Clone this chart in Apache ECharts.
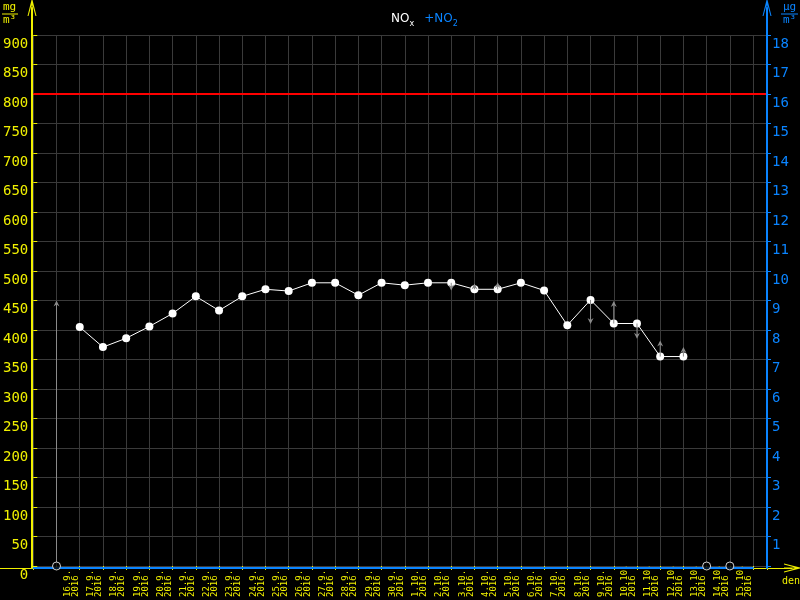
<!DOCTYPE html>
<html>
<head>
<meta charset="utf-8">
<script src="https://cdn.jsdelivr.net/npm/echarts@6/dist/echarts.min.js"></script>
<style>html,body{margin:0;padding:0;background:#000;}#c{width:800px;height:600px;}</style>
</head>
<body>
<div id="c"></div>
<script>
// ---- data ----
const dates = ['16.9.','17.9.','18.9.','19.9.','20.9.','21.9.','22.9.','23.9.','24.9.','25.9.','26.9.','27.9.','28.9.','29.9.','30.9.',
  '1.10.','2.10.','3.10.','4.10.','5.10.','6.10.','7.10.','8.10.','9.10.','10.10.','11.10.','12.10.','13.10.','14.10.','15.10.'];
const year = '2016';
const noxValues = [null,405,371,386,406,428,457,433,457,469,466,480,480,459,480,
  476,480,480,469,469,480,467,408,451,411,411,355,355,null,null];
// grey range arrows: [category index, start value, end value]
const arrowIdx   = [0,   17,  18,  19,  23,  24,  25,  26,  27];
const arrowStart = [0,   480, 469, 469, 451, 411, 411, 355, 355];
const arrowEnd   = [450, 467, 479, 481, 410, 449, 385, 382, 371];
// days without data (hollow markers on the axis)
const noDataIdx = [0, 28, 29];
const limitValue = 800;
const leftTicks = {min: 0, max: 900, interval: 50};
const rightTicks = {min: 0, max: 18, interval: 1};

const YEL = '#f0f000', BLUE = '#0a84ff', GRID = '#3a3a3a', GREY = '#8a8a8a';
const arrowPath = 'path://M4,0 L5,0 L9,16 L8,16 L5,5 L5,16 L4,16 L4,5 L1,16 L0,16 Z';

const chart = echarts.init(document.getElementById('c'), null, {renderer: 'canvas'});

const noxData = noxValues.map((v, i) => [i, v]).filter(d => d[1] != null);
const arrowData = arrowIdx.map((x, k) => [x, arrowStart[k], arrowEnd[k]]);
const noData = noDataIdx.map(i => [i, 0]);

const option = {
  backgroundColor: '#000',
  animation: false,
  title: {
    text: '{w|NO}{ws|x}  {b|+NO}{bs|2}',
    left: 386, top: 2,
    textStyle: {
      fontWeight: 'normal',
      rich: {
        w: {color: '#fff', fontSize: 12, fontWeight: 'normal', fontFamily: 'DejaVu Sans', lineHeight: 16, verticalAlign: 'bottom'},
        ws: {color: '#fff', fontSize: 8, fontWeight: 'normal', fontFamily: 'DejaVu Sans', lineHeight: 16, verticalAlign: 'bottom', padding: [0,0,-3,0]},
        b: {color: BLUE, fontSize: 12, fontWeight: 'normal', fontFamily: 'DejaVu Sans', lineHeight: 16, verticalAlign: 'bottom'},
        bs: {color: BLUE, fontSize: 8, fontWeight: 'normal', fontFamily: 'DejaVu Sans', lineHeight: 16, verticalAlign: 'bottom', padding: [0,0,-3,0]}
      }
    }
  },
  grid: [
    {left: 32, right: 33, top: 35, bottom: 32},   // main plot
    {left: 32, right: 33, top: 8, bottom: 32},    // y axis lines with arrows
    {left: 0, right: 8, top: 8, bottom: 32},      // yellow x axis line with arrow
    {left: 32, right: 47, top: 8, bottom: 32}     // blue base line
  ],
  xAxis: [
    {
      gridIndex: 0, type: 'value', min: -1, max: 30.6, interval: 1,
      axisLine: {show: false, onZero: false},
      axisTick: {show: true, length: 4, lineStyle: {color: YEL}},
      splitLine: {show: true, lineStyle: {color: GRID, width: 1}},
      axisLabel: {
        show: true, rotate: 90, margin: 31, align: 'left', verticalAlign: 'top',
        padding: [7, 0, 0, 0], lineHeight: 8,
        color: YEL, fontSize: 9, fontFamily: 'DejaVu Sans Mono',
        formatter: v => (Number.isInteger(v) && v >= 0 && v < dates.length) ? dates[v] + '\n' + year : ''
      }
    },
    {gridIndex: 1, type: 'value', show: false},
    {
      gridIndex: 2, type: 'value', min: 0, max: 1, z: 3,
      axisLine: {show: true, onZero: false, lineStyle: {color: YEL, width: 1}, symbol: ['none', arrowPath], symbolSize: [9, 16]},
      axisTick: {show: false}, axisLabel: {show: false}, splitLine: {show: false}
    },
    {
      gridIndex: 3, type: 'value', min: 0, max: 1, z: 4,
      axisLine: {show: true, onZero: false, lineStyle: {color: BLUE, width: 2}},
      axisTick: {show: false}, axisLabel: {show: false}, splitLine: {show: false}
    }
  ],
  yAxis: [
    {
      gridIndex: 0, type: 'value', min: leftTicks.min, max: leftTicks.max, interval: leftTicks.interval, position: 'left',
      axisLine: {show: false, onZero: false},
      axisTick: {show: true, inside: true, length: 4, lineStyle: {color: YEL}},
      splitLine: {show: true, lineStyle: {color: GRID, width: 1}},
      axisLabel: {color: YEL, fontSize: 14, fontFamily: 'DejaVu Sans Mono', margin: 5, verticalAlign: 'top', padding: [2,0,0,0]}
    },
    {
      gridIndex: 0, type: 'value', min: rightTicks.min, max: rightTicks.max, interval: rightTicks.interval, position: 'right',
      axisLine: {show: false, onZero: false},
      axisTick: {show: true, length: 4, lineStyle: {color: BLUE}},
      splitLine: {show: false},
      axisLabel: {color: BLUE, fontSize: 14, fontFamily: 'DejaVu Sans Mono', margin: 5, verticalAlign: 'top', padding: [2,0,0,0],
        formatter: v => v === 0 ? '' : String(v)}
    },
    {
      gridIndex: 1, type: 'value', min: 0, max: 1, position: 'left', z: 5,
      axisLine: {show: true, onZero: false, lineStyle: {color: YEL, width: 2}, symbol: ['none', arrowPath], symbolSize: [9, 16]},
      axisTick: {show: false}, axisLabel: {show: false}, splitLine: {show: false}
    },
    {
      gridIndex: 1, type: 'value', min: 0, max: 1, position: 'right', z: 5,
      axisLine: {show: true, onZero: false, lineStyle: {color: BLUE, width: 2}, symbol: ['none', arrowPath], symbolSize: [9, 16]},
      axisTick: {show: false}, axisLabel: {show: false}, splitLine: {show: false}
    },
    {gridIndex: 2, type: 'value', show: false, min: 0, max: 1},
    {gridIndex: 3, type: 'value', show: false, min: 0, max: 1}
  ],
  series: [
    {
      type: 'custom', name: 'range', xAxisIndex: 0, yAxisIndex: 0, z: 4,
      data: arrowData,
      renderItem: (params, api) => {
        const x = api.value(0), a = api.value(1), b = api.value(2);
        const p0 = api.coord([x, a]), p1 = api.coord([x, b]);
        const dir = p1[1] < p0[1] ? -1 : 1; // -1 = up
        const hx = p1[0], hy = p1[1];
        return {
          type: 'group',
          children: [
            {type: 'line', shape: {x1: p0[0], y1: p0[1], x2: hx, y2: hy - dir * 2}, style: {stroke: GREY, lineWidth: 1}},
            {type: 'polygon', shape: {points: [[hx, hy], [hx - 3, hy - dir * 6], [hx, hy - dir * 4], [hx + 3, hy - dir * 6]]},
              style: {fill: GREY}}
          ]
        };
      }
    },
    {
      type: 'line', name: 'NOx', xAxisIndex: 0, yAxisIndex: 0, z: 3,
      data: noxData,
      symbol: 'circle', symbolSize: 8,
      itemStyle: {color: '#fff'},
      lineStyle: {color: '#fff', width: 1},
      markLine: {
        silent: true, symbol: 'none', label: {show: false},
        lineStyle: {color: '#ff0000', width: 2, type: 'solid'},
        data: [{yAxis: limitValue}]
      }
    },
    {
      type: 'scatter', name: 'no data', xAxisIndex: 0, yAxisIndex: 0, z: 6,
      data: noData,
      symbol: 'circle', symbolSize: 8,
      itemStyle: {color: '#000', borderColor: '#fff', borderWidth: 1}
    }
  ],
  graphic: [
    {type: 'text', left: 3, top: 2, style: {text: 'mg', fill: YEL, font: '11px DejaVu Sans Mono'}},
    {type: 'line', shape: {x1: 2, y1: 14, x2: 18, y2: 14}, style: {stroke: YEL, lineWidth: 1}},
    {type: 'text', left: 3, top: 15, style: {text: 'm³', fill: YEL, font: '11px DejaVu Sans Mono'}},
    {type: 'text', left: 783, top: 2, style: {text: 'µg', fill: BLUE, font: '11px DejaVu Sans Mono'}},
    {type: 'line', shape: {x1: 781, y1: 14, x2: 798, y2: 14}, style: {stroke: BLUE, lineWidth: 1}},
    {type: 'text', left: 783, top: 15, style: {text: 'm³', fill: BLUE, font: '11px DejaVu Sans Mono'}},
    {type: 'text', left: 782, top: 576, style: {text: 'den', fill: YEL, font: '10px DejaVu Sans Mono'}}
  ]
};
chart.setOption(option);
</script>
</body>
</html>
